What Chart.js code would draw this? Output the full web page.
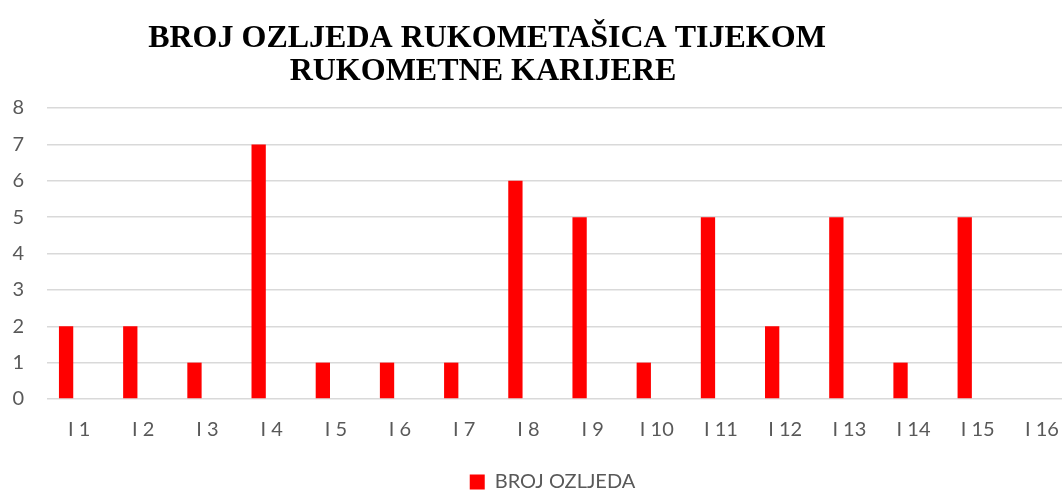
<!DOCTYPE html>
<html>
<head>
<meta charset="utf-8">
<script src="https://cdn.jsdelivr.net/npm/chart.js@4/dist/chart.umd.min.js"></script>
<style>
  html, body { margin: 0; padding: 0; background: #fff; overflow: hidden; }
  #wrap { position: absolute; left: 0; top: 0; width: 1104px; height: 491px; }
</style>
</head>
<body>
<div id="wrap"><canvas id="chart" width="1104" height="491"></canvas></div>
<script>
// ── data ──────────────────────────────────────────────
const titleLines = ["BROJ OZLJEDA RUKOMETAŠICA TIJEKOM", "RUKOMETNE KARIJERE"];
const categories = ["I 1", "I 2", "I 3", "I 4", "I 5", "I 6", "I 7", "I 8",
                    "I 9", "I 10", "I 11", "I 12", "I 13", "I 14", "I 15", "I 16"];
const injuries   = [2, 2, 1, 7, 1, 1, 1, 6, 5, 1, 5, 2, 5, 1, 5, 0];
const emptySeries = categories.map(() => null);   // Excel left an empty second series
const seriesName = "BROJ OZLJEDA";
const yTicks = [0, 1, 2, 3, 4, 5, 6, 7, 8];

const COLOURS = {
  bar:  "#ff0000",
  grid: "#d9d9d9",
  tick: "#595959",
  title: "#000000",
};
const TICK_FONT = { family: "Lato, 'Open Sans', sans-serif", size: 20 };

// Title drawn by hand so it can sit off-centre like the original
const titlePlugin = {
  id: "offsetTitle",
  afterLayout(chart) {
    // legend in the original is centred on the whole chart, not the padded box
    if (chart.legend) { chart.legend.left += 9.5; chart.legend.right += 9.5; }
  },
  afterDraw(chart) {
    const ctx = chart.ctx;
    ctx.save();
    ctx.fillStyle = COLOURS.title;
    ctx.font = 'bold 32px "Liberation Serif", "Times New Roman", serif';
    ctx.textAlign = "center";
    ctx.textBaseline = "alphabetic";
    ctx.fillText(titleLines[0], 487, 47);
    ctx.fillText(titleLines[1], 483, 80);
    ctx.restore();
  },
};

new Chart(document.getElementById("chart"), {
  type: "bar",
  data: {
    labels: categories,
    datasets: [
      {
        label: seriesName,
        data: injuries,
        backgroundColor: COLOURS.bar,
        borderWidth: 0,
        categoryPercentage: 0.81,
        barPercentage: 0.55,
      },
      {
        label: "",
        data: emptySeries,
        backgroundColor: "transparent",
        categoryPercentage: 0.81,
        barPercentage: 0.55,
      },
    ],
  },
  options: {
    responsive: false,
    animation: false,
    layout: { padding: { top: 108, left: 12, right: 30, bottom: -11 } },
    plugins: {
      title: { display: false },
      tooltip: { enabled: false },
      legend: {
        position: "bottom",
        labels: {
          color: COLOURS.tick,
          font: TICK_FONT,
          boxWidth: 15,
          boxHeight: 15,
          padding: 0,
          filter: (item) => item.text !== "",
        },
      },
    },
    scales: {
      x: {
        grid: { display: false, drawTicks: false },
        border: { display: false },
        ticks: {
          color: COLOURS.tick,
          font: TICK_FONT,
          padding: 19,
          maxRotation: 0,
          autoSkip: false,
        },
        afterFit: (axis) => { axis.height = 73; },
      },
      y: {
        min: 0,
        max: 8,
        afterBuildTicks: (axis) => { axis.ticks = yTicks.map((v) => ({ value: v })); },
        grid: { color: COLOURS.grid, lineWidth: 1.5, drawTicks: false },
        border: { display: false },
        ticks: {
          color: COLOURS.tick,
          font: TICK_FONT,
          padding: 23,
        },
        afterFit: (axis) => { axis.width = 35; },
      },
    },
  },
  plugins: [titlePlugin],
});
</script>
</body>
</html>
